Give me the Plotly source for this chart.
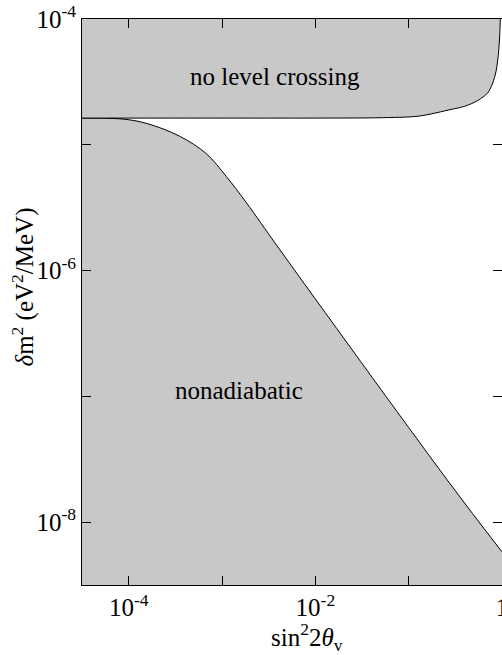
import plotly.graph_objects as go
import math

# ---- data ----
# upper region boundary ("no level crossing" lies above it)
cross_x = [3.16e-5, 1e-3, 1e-2, 0.048, 0.129, 0.285, 0.396, 0.551, 0.704, 0.796, 0.864, 0.914, 0.946, 0.959]
cross_y = [1.63e-5, 1.63e-5, 1.63e-5, 1.64e-5, 1.69e-5, 1.91e-5, 2.02e-5, 2.25e-5, 2.59e-5, 3.10e-5, 3.85e-5, 5.23e-5, 7.53e-5, 1.0e-4]

# lower region boundary ("nonadiabatic" lies below it)
nad_x = [3.16e-5, 8.7e-5, 1.55e-4, 3.51e-4, 6.78e-4, 1.11e-3, 1.82e-3, 4.12e-3, 0.258, 1.0]
nad_y = [1.63e-5, 1.60e-5, 1.48e-5, 1.17e-5, 8.5e-6, 5.6e-6, 3.47e-6, 1.48e-6, 2.17e-8, 5.8e-9]

x_tickvals = [1e-4, 1e-3, 1e-2, 1e-1, 1]
x_ticktext = ["10<sup>-4</sup>", "", "10<sup>-2</sup>", "", "1"]
y_tickvals = [1e-4, 1e-5, 1e-6, 1e-7, 1e-8]
y_ticktext = ["10<sup>-4</sup>", "", "10<sup>-6</sup>", "", "10<sup>-8</sup>"]

x_title = "sin<sup>2</sup>2<i>θ</i><sub>v</sub>"
y_title = "<i>δ</i>m<sup>2</sup> (eV<sup>2</sup>/MeV)"
label_top = "no level crossing"
label_bottom = "nonadiabatic"

X_MIN, X_MAX = 3.16e-5, 1.0
Y_MIN, Y_MAX = 3.16e-9, 1e-4

FILL = "rgb(200,200,200)"
FONT = "Liberation Serif"

fig = go.Figure()
# lower region: baseline then curve filled to it
fig.add_trace(go.Scatter(x=[X_MIN, X_MAX], y=[Y_MIN, Y_MIN], mode="lines",
                         line=dict(width=0), hoverinfo="skip", showlegend=False))
fig.add_trace(go.Scatter(x=nad_x, y=nad_y, mode="lines", fill="tonexty", fillcolor=FILL,
                         line=dict(color="black", width=1, shape="spline", smoothing=1.0),
                         hoverinfo="skip", showlegend=False))
# upper region: top line then curve filled to it
fig.add_trace(go.Scatter(x=[X_MIN, cross_x[-1]], y=[Y_MAX, Y_MAX], mode="lines",
                         line=dict(width=0), hoverinfo="skip", showlegend=False))
fig.add_trace(go.Scatter(x=cross_x, y=cross_y, mode="lines", fill="tonexty", fillcolor=FILL,
                         line=dict(color="black", width=1, shape="spline", smoothing=0.8),
                         hoverinfo="skip", showlegend=False))
# dummy trace for right-hand ticks axis
fig.add_trace(go.Scatter(x=[1e-2], y=[1e-6], yaxis="y2", mode="markers",
                         marker=dict(opacity=0), hoverinfo="skip", showlegend=False))

fig.add_annotation(x=math.log10(3.7e-3), y=math.log10(3.46e-5), text=label_top,
                   showarrow=False, font=dict(family=FONT, size=25, color="black"))
fig.add_annotation(x=math.log10(1.53e-3), y=math.log10(1.12e-7), text=label_bottom,
                   showarrow=False, font=dict(family=FONT, size=25, color="black"))
fig.add_annotation(xref="paper", yref="paper", x=0.536, y=-0.092, text=x_title,
                   showarrow=False, xanchor="center", yanchor="middle",
                   font=dict(family=FONT, size=25, color="black"))
fig.add_annotation(xref="paper", yref="paper", x=-0.14, y=0.526, text=y_title,
                   showarrow=False, textangle=-90, xanchor="center", yanchor="middle",
                   font=dict(family=FONT, size=25, color="black"))

axis_common = dict(type="log", showgrid=False, zeroline=False, ticks="inside", ticklen=9,
                   tickwidth=1, tickcolor="black", linecolor="black", linewidth=1,
                   automargin=False, ticklabeloverflow="allow",
                   tickfont=dict(family=FONT, size=25, color="black"))

fig.update_layout(
    width=502, height=655,
    margin=dict(l=82, r=0, t=19, b=70),
    paper_bgcolor="white", plot_bgcolor="white",
    xaxis=dict(range=[math.log10(X_MIN), math.log10(X_MAX)], tickvals=x_tickvals,
               ticktext=x_ticktext, showline=True, mirror="ticks", **axis_common),
    yaxis=dict(range=[math.log10(Y_MIN), math.log10(Y_MAX)], tickvals=y_tickvals,
               ticktext=y_ticktext, showline=True, mirror=False, **axis_common),
    yaxis2=dict(type="log", overlaying="y", side="right", automargin=False,
                range=[math.log10(Y_MIN), math.log10(Y_MAX)], tickvals=y_tickvals,
                showticklabels=False, showgrid=False, zeroline=False, showline=False,
                ticks="inside", ticklen=9, tickwidth=1, tickcolor="black"),
)

fig.write_html(
    "out.html",
    config={"displayModeBar": False},
    post_script="document.body.style.margin='0';document.body.style.padding='0';"
                "document.body.style.overflow='hidden';"
                "document.documentElement.style.overflow='hidden';",
)
